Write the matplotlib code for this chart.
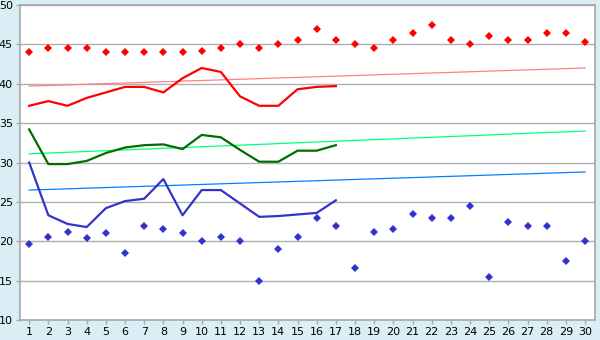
import numpy as np
import matplotlib
matplotlib.use("Agg")
import matplotlib.pyplot as plt

days = list(range(1, 31))

# daily extremes (diamonds)
max_pts = [44.0, 44.5, 44.5, 44.5, 44.0, 44.0, 44.0, 44.0, 44.0, 44.2,
           44.5, 45.0, 44.5, 45.0, 45.5, 47.0, 45.5, 45.0, 44.5, 45.5,
           46.5, 47.5, 45.5, 45.0, 46.0, 45.5, 45.5, 46.5, 46.5, 45.3]
min_pts = [19.6, 20.6, 21.2, 20.4, 21.0, 18.5, 22.0, 21.5, 21.0, 20.0,
           20.5, 20.0, 15.0, 19.0, 20.5, 23.0, 22.0, 16.6, 21.2, 21.5,
           23.5, 23.0, 23.0, 24.5, 15.5, 22.4, 22.0, 22.0, 17.5, 20.0]

# lines for days 1-17
line_days = list(range(1, 18))
red_line = [37.2, 37.8, 37.2, 38.2, 38.9, 39.6, 39.6, 38.9, 40.7, 42.0,
            41.5, 38.4, 37.2, 37.2, 39.3, 39.6, 39.7]
green_line = [34.2, 29.8, 29.8, 30.2, 31.2, 31.9, 32.2, 32.3, 31.7, 33.5,
              33.2, 31.6, 30.1, 30.1, 31.5, 31.5, 32.2]
blue_line = [30.0, 23.3, 22.2, 21.8, 24.2, 25.1, 25.4, 27.9, 23.3, 26.5,
             26.5, 24.8, 23.1, 23.2, 23.4, 23.6, 25.2]

# trend lines (start, end)
trend_days = [1, 30]
red_trend = [39.7, 42.0]
green_trend = [31.1, 34.0]
blue_trend = [26.5, 28.8]

bg = "#d9eff5"
fig = plt.figure(figsize=(6, 3.4), dpi=100, facecolor=bg)
ax = fig.add_axes([0.0333, 0.0588, 0.9584, 0.9265])
ax.set_facecolor("white")

ax.plot(trend_days, red_trend, color="#ff8080", lw=0.9)
ax.plot(trend_days, green_trend, color="#00ff80", lw=0.9)
ax.plot(trend_days, blue_trend, color="#0080ff", lw=0.9)

ax.plot(line_days, red_line, color="#ff0000", lw=1.6)
ax.plot(line_days, green_line, color="#006e00", lw=1.6)
ax.plot(line_days, blue_line, color="#3333cc", lw=1.6)

ax.plot(days, max_pts, ls="none", marker="D", ms=3.6, color="#ff0000", mew=0)
ax.plot(days, min_pts, ls="none", marker="D", ms=3.6, color="#3333cc", mew=0)

ax.set_xlim(0.52, 30.52)
ax.set_ylim(10, 50)
ax.set_xticks(days)
ax.set_yticks(range(10, 51, 5))
ax.grid(axis="y", color="#b0b0b0", lw=1)
ax.set_axisbelow(True)
for s in ax.spines.values():
    s.set_color("#a8a8a8")
    s.set_linewidth(1.2)
ax.tick_params(axis="both", labelsize=8, colors="#a8a8a8", labelcolor="black",
               length=3, width=1, pad=2)

fig.savefig("out.png", dpi=100, facecolor=bg)
